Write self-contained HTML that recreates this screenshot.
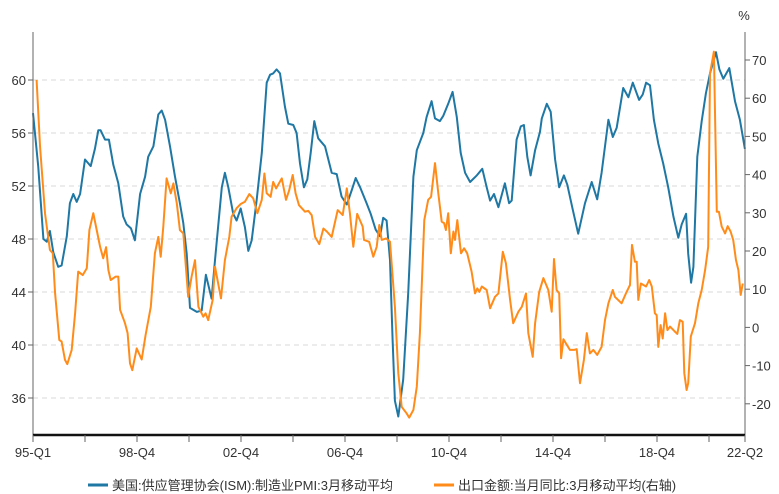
<!DOCTYPE html>
<html><head><meta charset="utf-8"><style>
html,body{margin:0;padding:0;background:#fff;}
svg{display:block;font-family:"Liberation Sans","Noto Sans CJK SC",sans-serif;}
</style></head><body>
<svg id="chart" width="779" height="494" viewBox="0 0 779 494" xmlns="http://www.w3.org/2000/svg">
<g id="grid"></g>
<g id="series"></g>
<g id="axes"></g>
<text x="744" y="20" font-size="13" fill="#333" text-anchor="middle">%</text>
<g>
<g>
<line x1="88" y1="485" x2="108" y2="485" stroke="#1f77a4" stroke-width="3"/>
<text x="112" y="490" font-size="13" fill="#333">美国:供应管理协会(ISM):制造业PMI:3月移动平均</text>
</g>
<g>
<line x1="434" y1="485" x2="454" y2="485" stroke="#ff8c1a" stroke-width="3"/>
<text x="458" y="490" font-size="13" fill="#333">出口金额:当月同比:3月移动平均(右轴)</text>
</g>
</g>
</svg>
<script>
const pmiDates=[1995.0,1995.20,1995.40,1995.53,1995.65,1995.78,1995.97,1996.10,1996.30,1996.42,1996.55,1996.68,1996.81,1997.00,1997.22,1997.38,1997.51,1997.60,1997.77,1997.92,1998.09,1998.28,1998.47,1998.60,1998.77,1998.92,1999.12,1999.31,1999.43,1999.63,1999.82,1999.95,2000.08,2000.27,2000.46,2000.65,2000.78,2000.91,2001.04,2001.30,2001.49,2001.65,2001.87,2002.00,2002.26,2002.38,2002.51,2002.70,2002.83,2002.99,2003.15,2003.28,2003.41,2003.60,2003.80,2003.99,2004.12,2004.24,2004.37,2004.50,2004.69,2004.82,2005.01,2005.14,2005.27,2005.42,2005.55,2005.68,2005.82,2005.97,2006.23,2006.49,2006.68,2006.87,2007.07,2007.26,2007.41,2007.58,2007.83,2007.99,2008.18,2008.35,2008.47,2008.60,2008.73,2008.83,2008.92,2009.05,2009.24,2009.43,2009.63,2009.76,2010.01,2010.14,2010.33,2010.46,2010.65,2010.78,2010.97,2011.14,2011.30,2011.45,2011.62,2011.81,2012.07,2012.28,2012.45,2012.58,2012.73,2012.90,2013.15,2013.31,2013.41,2013.60,2013.76,2013.88,2014.01,2014.14,2014.31,2014.50,2014.57,2014.76,2014.91,2015.08,2015.24,2015.42,2015.55,2015.76,2015.97,2016.23,2016.49,2016.70,2016.87,2017.13,2017.30,2017.45,2017.70,2017.90,2018.07,2018.31,2018.45,2018.58,2018.73,2018.88,2019.05,2019.24,2019.43,2019.63,2019.82,2019.95,2020.12,2020.20,2020.31,2020.40,2020.55,2020.72,2020.88,2021.04,2021.27,2021.40,2021.55,2021.78,2022.00,2022.19,2022.38];
const pmiValues=[57.5,53.5,48.0,47.8,48.6,47.0,45.9,46.0,48.2,50.7,51.4,50.8,51.4,54.0,53.5,54.8,56.2,56.2,55.5,55.5,53.6,52.2,49.7,49.1,48.8,47.9,51.4,52.7,54.2,55.0,57.4,57.7,57.0,55.0,52.7,50.7,49.2,46.9,42.8,42.5,42.6,45.3,43.5,46.4,51.9,53.0,51.9,49.9,49.4,50.3,48.9,47.1,47.9,50.9,54.5,59.8,60.4,60.5,60.8,60.5,58.0,56.7,56.6,56.0,53.7,51.9,52.5,54.5,56.9,55.6,55.0,53.0,52.9,51.2,50.6,51.7,52.6,51.9,50.7,49.9,48.7,48.2,49.6,49.4,46.4,40.4,35.8,34.6,37.4,43.9,52.7,54.7,56.0,57.2,58.4,57.1,56.9,57.3,58.2,59.1,57.2,54.5,53.0,52.3,52.8,53.3,51.9,50.9,51.4,50.4,52.2,50.7,50.9,55.5,56.5,56.6,54.2,52.8,54.7,56.1,57.1,58.2,57.6,54.0,51.9,52.8,52.1,50.2,48.4,50.7,52.3,51.0,53.0,57.0,55.7,56.4,59.4,58.7,59.8,58.5,58.9,59.8,59.6,57.0,55.2,53.7,51.9,49.7,48.1,49.1,49.9,46.9,44.7,45.9,54.2,56.9,59.0,60.5,62.1,60.8,60.1,60.9,58.4,57.0,54.8];
const expDates=[1995.14,1995.27,1995.46,1995.65,1995.76,1995.85,1996.01,1996.10,1996.23,1996.32,1996.49,1996.62,1996.74,1996.91,1997.07,1997.17,1997.32,1997.45,1997.58,1997.70,1997.81,1997.90,1997.99,1998.18,1998.28,1998.35,1998.54,1998.64,1998.73,1998.82,1998.99,1999.18,1999.33,1999.53,1999.69,1999.82,1999.91,2000.01,2000.14,2000.30,2000.40,2000.53,2000.65,2000.78,2000.97,2001.10,2001.23,2001.36,2001.55,2001.64,2001.74,2001.91,2002.00,2002.23,2002.38,2002.55,2002.64,2002.83,2002.99,2003.15,2003.32,2003.47,2003.63,2003.80,2003.90,2003.99,2004.14,2004.24,2004.35,2004.57,2004.73,2004.85,2004.99,2005.10,2005.23,2005.46,2005.59,2005.72,2005.85,2006.01,2006.17,2006.30,2006.49,2006.72,2006.91,2007.07,2007.19,2007.32,2007.47,2007.68,2007.73,2007.93,2008.09,2008.22,2008.32,2008.41,2008.58,2008.73,2008.92,2009.05,2009.18,2009.37,2009.47,2009.63,2009.76,2009.88,2010.05,2010.20,2010.31,2010.46,2010.59,2010.72,2010.81,2010.88,2010.97,2011.07,2011.17,2011.23,2011.32,2011.46,2011.58,2011.70,2011.87,2012.00,2012.09,2012.17,2012.26,2012.45,2012.58,2012.77,2012.90,2013.07,2013.19,2013.35,2013.47,2013.67,2013.80,2013.96,2014.05,2014.22,2014.31,2014.47,2014.63,2014.82,2014.95,2015.04,2015.14,2015.24,2015.31,2015.40,2015.65,2015.81,2015.91,2016.04,2016.19,2016.30,2016.42,2016.55,2016.70,2016.87,2017.00,2017.13,2017.30,2017.38,2017.64,2017.83,2017.96,2018.04,2018.15,2018.22,2018.28,2018.38,2018.58,2018.70,2018.80,2018.92,2018.99,2019.05,2019.14,2019.22,2019.31,2019.40,2019.50,2019.69,2019.78,2019.88,2019.99,2020.05,2020.14,2020.20,2020.30,2020.46,2020.59,2020.72,2020.85,2020.97,2021.04,2021.19,2021.30,2021.38,2021.49,2021.62,2021.72,2021.83,2021.93,2022.04,2022.13,2022.22,2022.30];
const expValues=[64.8,47.5,29.9,20.3,19.4,8.9,-3.3,-3.7,-8.5,-9.6,-5.9,3.7,14.6,13.7,15.5,25.5,29.9,25.5,21.1,18.1,21.0,15.0,12.4,13.3,13.3,4.6,1.1,-1.5,-9.4,-11.2,-5.5,-8.4,-2.0,5.4,19.4,23.7,18.5,26.4,39.0,35.1,37.7,32.5,25.5,24.6,8.0,13.3,17.6,5.4,2.8,3.7,1.9,7.2,15.9,7.6,17.6,23.7,29.0,31.2,32.3,32.9,34.9,33.8,29.9,33.4,40.3,35.1,34.2,38.1,36.4,39.0,33.4,35.8,39.9,35.1,32.0,30.3,30.5,29.4,23.7,21.8,25.9,25.1,23.7,30.7,29.4,36.4,29.9,21.1,29.7,26.4,22.9,22.4,18.5,21.1,26.8,22.9,23.3,22.4,5.4,-12.0,-20.8,-22.5,-23.6,-21.6,-15.5,-1.5,28.1,33.4,34.2,43.0,35.1,27.7,27.3,25.5,29.9,19.4,25.1,22.9,28.1,19.4,20.7,19.4,14.6,8.9,10.2,9.3,10.7,9.8,5.0,8.0,8.9,19.8,16.8,7.2,1.1,4.1,5.4,8.9,-1.5,-7.7,1.1,9.3,12.9,9.8,4.1,17.9,9.8,8.9,-8.1,-3.1,-5.9,-5.9,-5.7,-14.6,-8.5,-1.5,-6.8,-5.9,-7.2,-5.1,1.9,6.3,9.8,8.0,6.3,9.3,11.1,21.6,17.2,17.2,7.2,11.5,10.7,12.4,10.7,3.7,3.2,-5.1,0.6,-2.9,3.7,-0.7,0.2,-1.1,-1.7,1.9,1.5,-12.0,-16.4,-14.6,-2.4,1.1,6.3,9.8,15.0,21.1,66.5,72.2,30.3,30.3,26.4,24.6,26.5,25.1,22.9,17.6,15.0,8.5,11.5];
const leftTicks=[36,40,44,48,52,56,60];
const rightTicks=[-20,-10,0,10,20,30,40,50,60,70];
const xTickDates=[1995,1997,1999,2001,2003,2005,2007,2009,2011,2013,2015,2017,2019,2021,2022.385];
const xTickLabels=["95-Q1","","98-Q4","","02-Q4","","06-Q4","","10-Q4","","14-Q4","","18-Q4","","22-Q2"];

const L=33,R=745,T=32,B=435;
const x=t=>L+(t-1995)/(2022.385-1995)*(R-L);
const yL=v=>80+(60-v)*13.25;
const yR=v=>60+(70-v)*3.82;
const NS="http://www.w3.org/2000/svg";
function mk(tag,attrs,parent){const e=document.createElementNS(NS,tag);for(const k in attrs)e.setAttribute(k,attrs[k]);parent.appendChild(e);return e;}
const grid=document.getElementById('grid'),axes=document.getElementById('axes'),series=document.getElementById('series');

leftTicks.forEach(v=>{
  const g=mk('line',{x1:L,x2:R,y1:yL(v),y2:yL(v),stroke:'#d9d9d9','stroke-dasharray':'5,4','stroke-width':1},grid);
  
  
  const tk=mk('line',{x1:L-5,x2:L,y1:yL(v),y2:yL(v),stroke:'#666'},axes);
  
  
  const tx=mk('text',{x:L-7,y:yL(v)+5,'font-size':13,fill:'#333','text-anchor':'end'},axes);
  tx.textContent=v;
  
  
});
rightTicks.forEach(v=>{
  const tk=mk('line',{x1:R,x2:R+5,y1:yR(v),y2:yR(v),stroke:'#666'},axes);
  
  
  const tx=mk('text',{x:R+7,y:yR(v)+5,'font-size':13,fill:'#333'},axes);
  tx.textContent=v;
  
  
});
const la=mk('line',{x1:L,x2:L,y1:T,y2:B,stroke:'#666'},axes);


const ra=mk('line',{x1:R,x2:R,y1:T,y2:B,stroke:'#666'},axes);


const xa=mk('line',{x1:L,x2:R,y1:B,y2:B,stroke:'#111','stroke-width':2.5},axes);


xTickDates.forEach((t,i)=>{
  const tk=mk('line',{x1:x(t),x2:x(t),y1:B,y2:B+7,stroke:'#666'},axes);
  
  
  if(xTickLabels[i]){
    const tx=mk('text',{x:x(t),y:B+22,'font-size':13,fill:'#333','text-anchor':'middle'},axes);
    tx.textContent=xTickLabels[i];
    
    
  }
});
const pmiPath=mk('path',{d:pmiDates.map((t,i)=>(i?'L':'M')+x(t).toFixed(1)+','+yL(pmiValues[i]).toFixed(1)).join(''),fill:'none',stroke:'#1f77a4','stroke-width':2,'stroke-linejoin':'round'},series);


const expPath=mk('path',{d:expDates.map((t,i)=>(i?'L':'M')+x(t).toFixed(1)+','+yR(expValues[i]).toFixed(1)).join(''),fill:'none',stroke:'#ff8c1a','stroke-width':2,'stroke-linejoin':'round'},series);


</script>
</body></html>
